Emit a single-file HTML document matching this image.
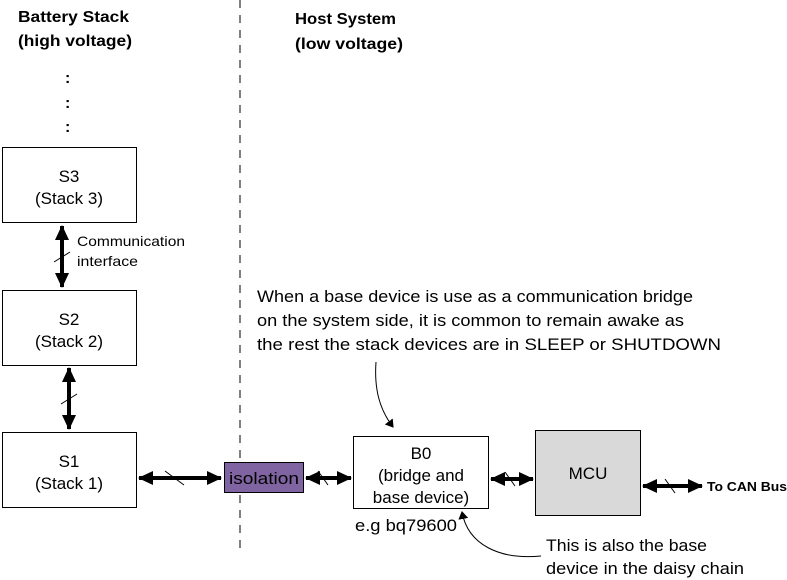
<!DOCTYPE html>
<html><head><meta charset="utf-8"><style>
html,body{margin:0;padding:0;background:#fff}
svg{display:block}
text{font-family:"Liberation Sans",sans-serif;fill:#000}
</style></head><body>
<svg width="787" height="580" viewBox="0 0 787 580" xmlns="http://www.w3.org/2000/svg">
<defs>
<marker id="ah" markerWidth="10" markerHeight="10" refX="7" refY="5" orient="auto-start-reverse" markerUnits="userSpaceOnUse">
<path d="M0,0 L8,5 L0,10 z" fill="#000"/></marker>
<marker id="bh" markerWidth="16" markerHeight="16" refX="14" refY="8" orient="auto-start-reverse" markerUnits="userSpaceOnUse">
<path d="M0,1 L15,8 L0,15 z" fill="#000"/></marker>
</defs>
<line x1="240" y1="0" x2="240" y2="552" stroke="#000" stroke-width="1" stroke-dasharray="8,7"/>
<g font-weight="bold" font-size="16">
<text x="18" y="22" textLength="111" lengthAdjust="spacingAndGlyphs">Battery Stack</text>
<text x="18" y="46" textLength="114" lengthAdjust="spacingAndGlyphs">(high voltage)</text>
<text x="295" y="24" textLength="101" lengthAdjust="spacingAndGlyphs">Host System</text>
<text x="295" y="49" textLength="108" lengthAdjust="spacingAndGlyphs">(low voltage)</text>
<text x="65" y="83">:</text><text x="65" y="108">:</text><text x="65" y="132">:</text>
</g>
<g fill="#fff" stroke="#000" stroke-width="1">
<rect x="2.5" y="147.5" width="134" height="75"/>
<rect x="2.5" y="290.5" width="134" height="75"/>
<rect x="2.5" y="432.5" width="134" height="75"/>
<rect x="353.5" y="436.5" width="135" height="72"/>
<rect x="535.5" y="430.5" width="105" height="85" fill="#d9d9d9"/>
<rect x="224.5" y="462.5" width="79" height="30" fill="#8064a2"/>
</g>
<g font-size="17" text-anchor="middle">
<text x="69" y="182">S3</text><text x="69" y="204">(Stack 3)</text>
<text x="69" y="325">S2</text><text x="69" y="347">(Stack 2)</text>
<text x="69" y="467">S1</text><text x="69" y="489">(Stack 1)</text>
<text x="421" y="459">B0</text><text x="421" y="481">(bridge and</text><text x="421" y="503">base device)</text>
<text x="588" y="479">MCU</text>
<text x="264" y="484" textLength="70" lengthAdjust="spacingAndGlyphs">isolation</text>
</g>
<g font-size="14">
<text x="77" y="246" textLength="108" lengthAdjust="spacingAndGlyphs">Communication</text><text x="77" y="266" textLength="61" lengthAdjust="spacingAndGlyphs">interface</text>
</g>
<g stroke="#000" stroke-width="4" fill="none">
<line x1="62" y1="226" x2="62" y2="287" marker-start="url(#bh)" marker-end="url(#bh)"/>
<line x1="69" y1="368" x2="69" y2="429" marker-start="url(#bh)" marker-end="url(#bh)"/>
<line x1="139" y1="478" x2="221" y2="478" marker-start="url(#bh)" marker-end="url(#bh)"/>
<line x1="306" y1="478" x2="351" y2="478" marker-start="url(#bh)" marker-end="url(#bh)"/>
<line x1="491" y1="479" x2="533" y2="479" marker-start="url(#bh)" marker-end="url(#bh)"/>
<line x1="643" y1="486" x2="702" y2="486" marker-start="url(#bh)" marker-end="url(#bh)"/>
</g>
<g stroke="#000" stroke-width="1">
<line x1="54" y1="262" x2="70" y2="252"/>
<line x1="61" y1="404" x2="77" y2="394"/>
<line x1="165" y1="471" x2="184" y2="485"/>
<line x1="318" y1="471" x2="328" y2="485"/>
<line x1="505" y1="472" x2="515" y2="486"/>
<line x1="665" y1="479" x2="675" y2="493"/>
</g>
<text x="707" y="491" font-size="13" font-weight="bold" textLength="80" lengthAdjust="spacingAndGlyphs">To CAN Bus</text>
<g font-size="17">
<text x="257" y="302" textLength="436" lengthAdjust="spacingAndGlyphs">When a base device is use as a communication bridge</text>
<text x="257" y="326" textLength="427" lengthAdjust="spacingAndGlyphs">on the system side, it is common to remain awake as</text>
<text x="257" y="350" textLength="464" lengthAdjust="spacingAndGlyphs">the rest the stack devices are in SLEEP or SHUTDOWN</text>
<text x="355" y="531" textLength="102" lengthAdjust="spacingAndGlyphs">e.g bq79600</text>
<text x="546" y="551" textLength="161" lengthAdjust="spacingAndGlyphs">This is also the base</text>
<text x="546" y="574" textLength="198" lengthAdjust="spacingAndGlyphs">device in the daisy chain</text>
</g>
<g stroke="#000" stroke-width="1" fill="none">
<path d="M376,362 C374,390 380,410 393,427" marker-end="url(#ah)"/>
<path d="M541,556 C500,560 468,545 462,512" marker-end="url(#ah)"/>
</g>
</svg>
</body></html>
